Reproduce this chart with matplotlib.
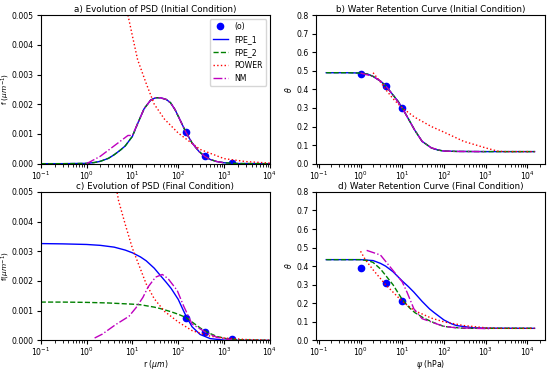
import matplotlib
matplotlib.use("Agg")
import matplotlib.pyplot as plt

plt.rcParams['font.size'] = 5.6
plt.rcParams['xtick.major.pad'] = 1.2
plt.rcParams['ytick.major.pad'] = 2
plt.rcParams['xtick.major.size'] = 2.8
plt.rcParams['ytick.major.size'] = 3

# ---- a) PSD initial ----
obs_r_a = [150, 375, 1500]
obs_f_a = [0.00105, 0.00027, 0.00002]
r_fpe_a = [0.1, 0.3, 1, 1.5, 2, 3, 4, 5.5, 7, 10, 13, 18, 25, 32, 41, 55, 68, 85, 105, 148, 200, 280, 375, 500, 700, 1000, 2000, 10000]
f_fpe_a = [0, 0, 0.00001, 0.00004, 0.00008, 0.00018, 0.0003, 0.00046, 0.0006, 0.00092, 0.00135, 0.00185, 0.00214, 0.00222, 0.00222, 0.00216, 0.00205, 0.00182, 0.00153, 0.00105, 0.00070, 0.00042, 0.00025, 0.00014, 0.00007, 0.00003, 0.000005, 0]
r_pow_a = [8, 10, 13, 20, 30, 50, 100, 300, 1000, 3000, 10000]
f_pow_a = [0.005, 0.0043, 0.0035, 0.0027, 0.0020, 0.0015, 0.00103, 0.00048, 0.00017, 0.00007, 0.00002]
r_nm_a = [1, 2, 4, 8, 10, 13, 18, 25, 32, 41, 55, 68, 85, 105, 148, 200, 280, 375, 500, 700, 1000]
f_nm_a = [0, 0.00025, 0.0006, 0.00095, 0.00095, 0.00135, 0.00185, 0.00214, 0.00222, 0.00222, 0.00216, 0.00205, 0.00182, 0.00153, 0.00105, 0.00070, 0.00042, 0.00025, 0.00014, 0.00007, 0.00003]

# ---- c) PSD final ----
obs_r_c = [150, 380, 1500]
obs_f_c = [0.00075, 0.00027, 0.00004]
r_fpe1_c = [0.1, 0.3, 1, 2, 4, 7, 10, 15, 20, 30, 40, 55, 70, 100, 130, 150, 200, 300, 500, 1000, 10000]
f_fpe1_c = [0.00326, 0.00325, 0.00323, 0.0032, 0.00314, 0.00304, 0.00295, 0.00281, 0.00268, 0.00243, 0.0022, 0.00195, 0.00175, 0.00138, 0.001, 0.0008, 0.00046, 0.0002, 0.00006, 0.00001, 0]
r_fpe2_c = [0.1, 0.3, 1, 3, 10, 15, 30, 41, 68, 100, 148, 200, 300, 408, 700, 1130, 2000, 10000]
f_fpe2_c = [0.00129, 0.00129, 0.00128, 0.00126, 0.00122, 0.0012, 0.00112, 0.00107, 0.00097, 0.00088, 0.00077, 0.00062, 0.00042, 0.00029, 0.00013, 0.00006, 0.00002, 0]
r_pow_c = [4.5, 5, 7, 10, 15, 20, 30, 50, 100, 200, 500, 1000, 3000, 10000]
f_pow_c = [0.0051, 0.0047, 0.0039, 0.0031, 0.0024, 0.0019, 0.0014, 0.00098, 0.00062, 0.00033, 0.00014, 0.00008, 0.00003, 0.00001]
r_nm_c = [1.5, 2.2, 4.3, 8.4, 12, 17, 22, 32, 45, 60, 95, 130, 200, 400, 700, 1500]
f_nm_c = [0.00008, 0.00021, 0.00053, 0.00081, 0.0011, 0.00145, 0.0018, 0.00213, 0.00222, 0.00208, 0.00168, 0.00117, 0.00055, 0.00027, 0.0001, 0.00002]

# ---- b) WRC initial ----
obs_h_b = [1, 4, 10]
obs_t_b = [0.485, 0.42, 0.30]
h_fpe_b = [0.15, 0.5, 1, 1.5, 2, 3, 4, 6, 8, 10, 15, 20, 30, 50, 70, 100, 200, 1000, 15000]
t_fpe_b = [0.49, 0.49, 0.488, 0.482, 0.47, 0.445, 0.42, 0.37, 0.335, 0.30, 0.23, 0.18, 0.12, 0.085, 0.074, 0.068, 0.066, 0.065, 0.065]
h_pow_b = [2, 3, 4, 6, 10, 20, 50, 100, 300, 1000, 2000, 3000, 15000]
t_pow_b = [0.49, 0.44, 0.40, 0.35, 0.30, 0.25, 0.20, 0.17, 0.12, 0.085, 0.067, 0.065, 0.065]
h_nm_b = [1, 2, 3, 4, 6, 10, 15, 20, 30, 50, 100, 200, 1000]
t_nm_b = [0.488, 0.47, 0.445, 0.42, 0.37, 0.30, 0.23, 0.18, 0.12, 0.085, 0.068, 0.066, 0.065]

# ---- d) WRC final ----
obs_h_d = [1, 4, 10]
obs_t_d = [0.39, 0.31, 0.21]
h_fpe1_d = [0.15, 1, 2, 3, 4, 6, 10, 14, 19, 30, 45, 58, 100, 150, 200, 500, 1000, 15000]
t_fpe1_d = [0.435, 0.435, 0.43, 0.415, 0.4, 0.37, 0.32, 0.29, 0.26, 0.21, 0.17, 0.15, 0.11, 0.09, 0.08, 0.068, 0.066, 0.065]
h_fpe2_d = [0.15, 1, 1.5, 2, 3, 4, 6, 10, 15, 20, 33, 58, 100, 300, 15000]
t_fpe2_d = [0.435, 0.435, 0.43, 0.42, 0.385, 0.35, 0.30, 0.22, 0.175, 0.15, 0.12, 0.095, 0.075, 0.065, 0.065]
h_pow_d = [1, 1.3, 2, 4, 10, 20, 50, 100, 300, 1000, 2000, 15000]
t_pow_d = [0.48, 0.435, 0.38, 0.30, 0.21, 0.16, 0.12, 0.10, 0.08, 0.068, 0.065, 0.065]
h_nm_d = [1.4, 3, 5.7, 10, 13, 19, 30, 95, 190, 1300]
t_nm_d = [0.485, 0.46, 0.383, 0.315, 0.26, 0.17, 0.117, 0.077, 0.068, 0.063]

fig, axs = plt.subplots(2, 2, figsize=(5.5, 3.7), dpi=100)
plt.subplots_adjust(left=0.074, right=0.991, top=0.959, bottom=0.08, wspace=0.2, hspace=0.19)

lw = 1.0
ms = 4.5
tfs = 6.3

ax = axs[0, 0]
ax.plot(obs_r_a, obs_f_a, 'bo', ms=ms, label='(o)')
ax.plot(r_fpe_a, f_fpe_a, 'b-', lw=lw, label='FPE_1')
ax.plot(r_fpe_a, f_fpe_a, 'g--', lw=lw, label='FPE_2')
ax.plot(r_pow_a, f_pow_a, 'r:', lw=lw, label='POWER')
ax.plot(r_nm_a, f_nm_a, 'm-.', lw=lw, label='NM')
ax.set_xscale('log')
ax.set_xlim(0.1, 1e4)
ax.set_ylim(0, 0.005)
ax.set_ylabel(r'f ($\mu m^{-1}$)', fontsize=5.3)
ax.yaxis.set_label_coords(-0.125, 0.5)
ax.set_title('a) Evolution of PSD (Initial Condition)', fontsize=tfs, pad=2)
ax.legend(loc='upper right', fontsize=5.6)

ax = axs[1, 0]
ax.plot(obs_r_c, obs_f_c, 'bo', ms=ms)
ax.plot(r_fpe1_c, f_fpe1_c, 'b-', lw=lw)
ax.plot(r_fpe2_c, f_fpe2_c, 'g--', lw=lw)
ax.plot(r_pow_c, f_pow_c, 'r:', lw=lw)
ax.plot(r_nm_c, f_nm_c, 'm-.', lw=lw)
ax.set_xscale('log')
ax.set_xlim(0.1, 1e4)
ax.set_ylim(0, 0.005)
ax.set_ylabel(r'f($\mu m^{-1}$)', fontsize=5.3)
ax.yaxis.set_label_coords(-0.125, 0.5)
ax.set_xlabel(r'r ($\mu m$)', labelpad=0)
ax.set_title('c) Evolution of PSD (Final Condition)', fontsize=tfs, pad=2)

ax = axs[0, 1]
ax.plot(obs_h_b, obs_t_b, 'bo', ms=ms)
ax.plot(h_fpe_b, t_fpe_b, 'b-', lw=lw)
ax.plot(h_fpe_b, t_fpe_b, 'g--', lw=lw)
ax.plot(h_pow_b, t_pow_b, 'r:', lw=lw)
ax.plot(h_nm_b, t_nm_b, 'm-.', lw=lw)
ax.set_xscale('log')
ax.set_ylim(0, 0.8)
ax.set_ylabel(r'$\theta$', labelpad=2)
ax.set_title('b) Water Retention Curve (Initial Condition)', fontsize=tfs, pad=2)

ax = axs[1, 1]
ax.plot(obs_h_d, obs_t_d, 'bo', ms=ms)
ax.plot(h_fpe1_d, t_fpe1_d, 'b-', lw=lw)
ax.plot(h_fpe2_d, t_fpe2_d, 'g--', lw=lw)
ax.plot(h_pow_d, t_pow_d, 'r:', lw=lw)
ax.plot(h_nm_d, t_nm_d, 'm-.', lw=lw)
ax.set_xscale('log')
ax.set_ylim(0, 0.8)
ax.set_ylabel(r'$\theta$', labelpad=2)
ax.set_xlabel(r'$\psi$ (hPa)', labelpad=0)
ax.set_title('d) Water Retention Curve (Final Condition)', fontsize=tfs, pad=2)

plt.savefig('out.png')
